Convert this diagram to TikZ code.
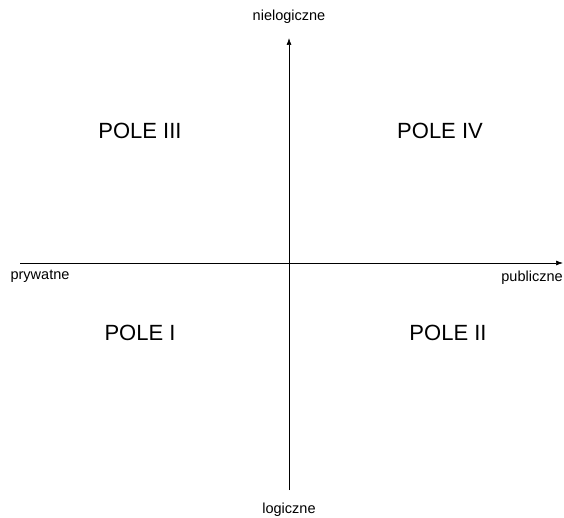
\documentclass[tikz,border=0pt]{standalone}
\usepackage{fontspec}
\setmainfont{Liberation Sans}
\usetikzlibrary{arrows.meta}
\begin{document}
\begin{tikzpicture}[x=1pt, y=-1pt,
    axislabel/.style={font=\fontsize{14.5}{16}\selectfont, inner sep=0pt},
    field/.style={font=\fontsize{22}{24}\selectfont, inner sep=0pt}]
    \useasboundingbox (0, 0) rectangle (564, 518);
    \coordinate (left) at (20, 263);
    \coordinate (right) at (563, 263);
    \coordinate (bottom) at (289, 490);
    \coordinate (top) at (289, 38);
    \draw[-{Latex[length=7pt, width=5pt]}, line width=0.7pt] (left) -- (right);
    \draw[-{Latex[length=7pt, width=5pt]}, line width=0.7pt] (bottom) -- (top);
    \node[axislabel] (niel) at (289, 17) {nielogiczne};
    \node[axislabel] (log) at (289, 510) {logiczne};
    \node[axislabel] (pryw) at (40, 276) {prywatne};
    \node[axislabel] (publ) at (532, 278) {publiczne};
    \node[field] (p3) at (140, 131) {POLE III};
    \node[field] (p4) at (440, 131) {POLE IV};
    \node[field] (p1) at (140, 333) {POLE I};
    \node[field] (p2) at (448, 333) {POLE II};
\end{tikzpicture}
\end{document}
